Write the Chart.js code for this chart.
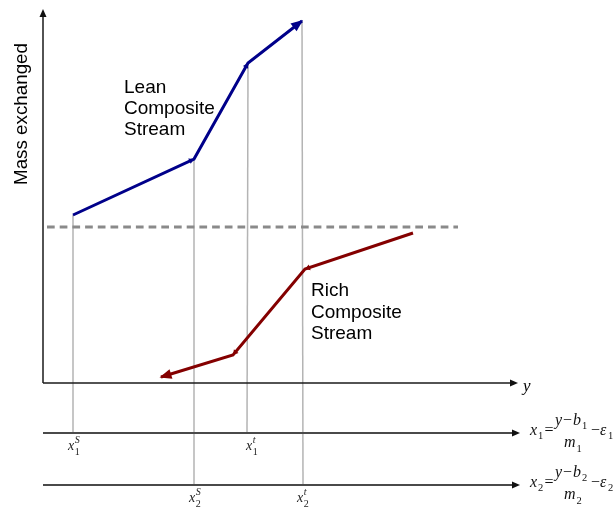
<!DOCTYPE html>
<html>
<head>
<meta charset="utf-8">
<script src="https://cdn.jsdelivr.net/npm/chart.js@4.4.1/dist/chart.umd.min.js"></script>
<style>
  html, body { margin: 0; padding: 0; background: #fff; }
  canvas { display: block; }
</style>
</head>
<body>
<canvas id="c" width="616" height="509"></canvas>
<script>
// Lean composite stream: composition (y) vs. mass exchanged
const leanX = [3.0, 15.1, 20.5, 25.9];
const leanY = [16.8, 22.4, 32.0, 36.2];

// Rich composite stream (drawn from its top end down to its lean end)
const richX = [37.0, 26.2, 19.0, 11.8];
const richY = [15.0, 11.4, 2.8, 0.6];

// Horizontal dashed reference level
const refLevel = 15.6;
const refFrom = 0.4;
const refTo = 41.5;

// Vertical projections of the lean breakpoints onto the x1 / x2 scales
const dropBottomX = [3.0, 15.1, 20.4, 26.0];
const dropRow = ['x1', 'x2', 'x1', 'x2'];

// The three horizontal scales: y (main), x1, x2
const axisLevel = { y: 0, x1: -5.0, x2: -10.2 };
const axisEnd = { y: 47.5, x1: 47.7, x2: 47.7 };
const yAxisTop = 37.4;

// Tick-style labels under the projections
const markMain = ['x', 'x', 'x', 'x'];
const markSup = ['S', 'S', 't', 't'];
const markSub = ['1', '2', '1', '2'];
const markLabelX = [2.5, 14.6, 20.3, 25.4];

// Curve labels
const leanLabel = ['Lean', 'Composite', 'Stream'];
const richLabel = ['Rich', 'Composite', 'Stream'];
const leanLabelPos = [8.1, 29.0];
const richLabelPos = [26.8, 8.7];

const yTitle = 'Mass exchanged';
const xTitle = 'y';
const formulaX = 48.7;

const LEAN = '#00008a';
const RICH = '#840000';
const DROP = '#b4b4b4';
const SANS = '"Liberation Sans", Arial, sans-serif';
const SERIF = '"Liberation Serif", "Times New Roman", serif';

const pts = (xs, ys) => xs.map((x, i) => ({ x, y: ys[i] }));

const datasets = [
  { data: pts(leanX, leanY), borderColor: LEAN, borderWidth: 3, order: 0 },
  { data: pts(richX, richY), borderColor: RICH, borderWidth: 3, order: 0 },
  { data: [{ x: refFrom, y: refLevel }, { x: refTo, y: refLevel }],
    borderColor: '#8a8a8a', borderWidth: 3, borderDash: [7.7, 5], order: 1 },
  { data: [{ x: 0, y: axisLevel.y }, { x: 0, y: yAxisTop - 0.6 }], borderColor: '#1a1a1a', borderWidth: 1.5, order: 2 },
  { data: [{ x: 0, y: axisLevel.y }, { x: axisEnd.y - 0.6, y: axisLevel.y }], borderColor: '#1a1a1a', borderWidth: 1.5, order: 2 },
  { data: [{ x: 0, y: axisLevel.x1 }, { x: axisEnd.x1 - 0.6, y: axisLevel.x1 }], borderColor: '#4a4a4a', borderWidth: 1.8, order: 2 },
  { data: [{ x: 0, y: axisLevel.x2 }, { x: axisEnd.x2 - 0.6, y: axisLevel.x2 }], borderColor: '#4a4a4a', borderWidth: 1.8, order: 2 }
];
leanX.forEach((x, i) => {
  datasets.push({
    data: [{ x, y: leanY[i] }, { x: dropBottomX[i], y: axisLevel[dropRow[i]] }],
    borderColor: DROP, borderWidth: 1.5, order: 3
  });
});
datasets.forEach(d => { d.showLine = true; d.pointRadius = 0; d.fill = false; d.clip = false; d.tension = 0; });

function arrowHead(ctx, x0, y0, x1, y1, len, half, color) {
  const a = Math.atan2(y1 - y0, x1 - x0);
  ctx.save();
  ctx.translate(x1, y1);
  ctx.rotate(a);
  ctx.beginPath();
  ctx.moveTo(0, 0);
  ctx.lineTo(-len, -half);
  ctx.lineTo(-len, half);
  ctx.closePath();
  ctx.fillStyle = color;
  ctx.fill();
  ctx.restore();
}

const annotate = {
  id: 'annotate',
  afterDatasetsDraw(chart) {
    const { ctx } = chart;
    const sx = chart.scales.x, sy = chart.scales.y;
    const px = v => sx.getPixelForValue(v);
    const py = v => sy.getPixelForValue(v);
    ctx.save();

    // curve end arrows
    const n = leanX.length - 1;
    arrowHead(ctx, px(leanX[n - 1]), py(leanY[n - 1]), px(leanX[n]) + 1, py(leanY[n]) - 1, 12, 5, LEAN);
    arrowHead(ctx, px(richX[n - 1]), py(richY[n - 1]), px(richX[n]) - 1.5, py(richY[n]) + 0.5, 12, 5, RICH);
    // small markers at the breakpoints
    for (let i = 1; i < n; i++) {
      arrowHead(ctx, px(leanX[i - 1]), py(leanY[i - 1]), px(leanX[i]), py(leanY[i]), 5, 3, LEAN);
      arrowHead(ctx, px(richX[i - 1]), py(richY[i - 1]), px(richX[i]), py(richY[i]), 5, 3, RICH);
    }

    // axis arrows
    arrowHead(ctx, px(0), py(0), px(0), py(yAxisTop), 8, 3.5, '#111');
    ['y', 'x1', 'x2'].forEach(k => {
      arrowHead(ctx, px(0), py(axisLevel[k]), px(axisEnd[k]), py(axisLevel[k]), 8, 3.5, '#111');
    });

    // axis titles
    ctx.fillStyle = '#000';
    ctx.save();
    ctx.translate(27, py(26.9));
    ctx.rotate(-Math.PI / 2);
    ctx.font = '18.8px ' + SANS;
    ctx.textAlign = 'center';
    ctx.textBaseline = 'alphabetic';
    ctx.fillText(yTitle, 0, 0);
    ctx.restore();

    ctx.textAlign = 'left';
    ctx.textBaseline = 'alphabetic';
    ctx.font = 'italic 17px ' + SERIF;
    ctx.fillText(xTitle, px(axisEnd.y) + 5, py(axisLevel.y) + 8);

    // curve labels
    ctx.font = '19px ' + SANS;
    leanLabel.forEach((t, i) => ctx.fillText(t, px(leanLabelPos[0]), py(leanLabelPos[1]) + i * 21.2));
    richLabel.forEach((t, i) => ctx.fillText(t, px(richLabelPos[0]), py(richLabelPos[1]) + i * 21.5));

    // projection labels
    ctx.fillStyle = '#222';
    markMain.forEach((m, i) => {
      const x = px(markLabelX[i]);
      const y = py(axisLevel[dropRow[i]] - 1.7);
      ctx.font = 'italic 14px ' + SERIF;
      ctx.fillText(m, x, y);
      const w = ctx.measureText(m).width + 0.6;
      ctx.font = 'italic 10px ' + SERIF;
      ctx.fillText(markSup[i], x + w, y - 7.5);
      ctx.font = '10px ' + SERIF;
      ctx.fillText(markSub[i], x + w, y + 4.5);
    });

    // conversion formulas for the two composition scales
    ctx.fillStyle = '#111';
    [['x1', '1'], ['x2', '2']].forEach(([k, s]) => {
      const x = px(formulaX);
      const b = py(axisLevel[k]) + 1.8;
      const it = 'italic 16px ' + SERIF;
      const up = '16px ' + SERIF;
      const sm = '10.5px ' + SERIF;
      const parts = [
        [it, 'x', 0, 0], [sm, s, 8, 4.5], [up, '=', 14.5, 0],
        [it, 'y', 25, -10], [up, '\u2212', 33, -10], [it, 'b', 43, -10], [sm, s, 52, -6],
        [it, 'm', 34, 12.5], [sm, s, 46.5, 17],
        [up, '\u2212', 61, 0], [it, '\u03b5', 70, 0], [sm, s, 78, 4.5]
      ];
      parts.forEach(([f, t, dx, dy]) => { ctx.font = f; ctx.fillText(t, x + dx, b + dy); });
    });

    ctx.restore();
  }
};

new Chart(document.getElementById('c'), {
  type: 'scatter',
  data: { datasets },
  options: {
    responsive: false,
    devicePixelRatio: 1,
    animation: false,
    layout: { padding: 0 },
    plugins: { legend: { display: false }, tooltip: { enabled: false } },
    scales: {
      x: { type: 'linear', min: -4.3, max: 57.3, display: false },
      y: { type: 'linear', min: -12.6, max: 38.3, display: false }
    }
  },
  plugins: [annotate]
});
</script>
</body>
</html>
